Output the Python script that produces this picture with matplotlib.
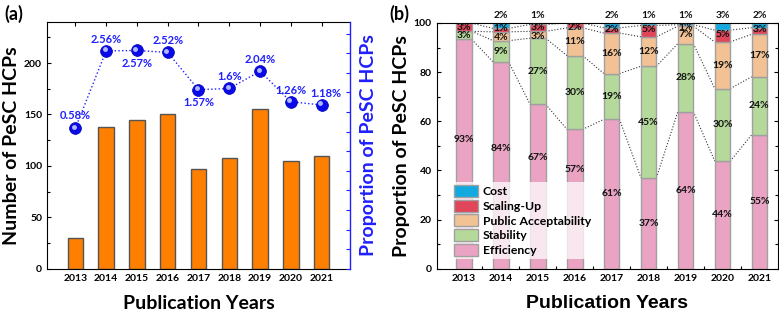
import numpy as np
import matplotlib
matplotlib.use("Agg")
import matplotlib.pyplot as plt
from matplotlib.patches import Patch

plt.rcParams['font.family'] = ['Lato', 'DejaVu Sans']
plt.rcParams['font.weight'] = 'bold'

years = [2013, 2014, 2015, 2016, 2017, 2018, 2019, 2020, 2021]

# panel (a)
n_papers = [30, 138, 145, 150, 97, 108, 155, 105, 110]
share_pct = [0.58, 2.56, 2.57, 2.52, 1.57, 1.6, 2.04, 1.26, 1.18]
share_lbl = ['0.58%', '2.56%', '2.57%', '2.52%', '1.57%', '1.6%', '2.04%', '1.26%', '1.18%']

# panel (b), percent of papers per topic
efficiency = [93.3, 84.1, 66.9, 56.7, 60.8, 37.0, 63.9, 43.8, 54.5]
stability = [3.3, 8.7, 26.9, 30.0, 18.6, 45.4, 27.7, 29.5, 23.6]
public_acc = [0.0, 3.6, 2.8, 11.3, 16.5, 12.0, 7.1, 19.0, 17.3]
scaling_up = [3.3, 1.4, 2.8, 2.0, 2.1, 4.6, 0.6, 4.8, 2.7]
cost = [0.0, 2.2, 0.7, 0.0, 2.1, 0.9, 0.6, 2.9, 1.8]
eff_lbl = ['93%', '84%', '67%', '57%', '61%', '37%', '64%', '44%', '55%']
stab_lbl = ['3%', '9%', '27%', '30%', '19%', '45%', '28%', '30%', '24%']
pa_lbl = ['', '4%', '3%', '11%', '16%', '12%', '7%', '19%', '17%']
su_lbl = ['3%', '1%', '3%', '2%', '2%', '5%', '1%', '5%', '3%']
cost_lbl = ['', '2%', '1%', '', '2%', '1%', '1%', '3%', '2%']

fig = plt.figure(figsize=(7.79, 3.14), dpi=100)

# ---------------- (a) ----------------
ax = fig.add_axes([0.0603, 0.1443, 0.389, 0.786])
ax.bar(years, n_papers, width=0.5, color='#FF7F00', edgecolor='#555555', linewidth=1.0, zorder=2)
ax.set_xlim(2012.08, 2021.92)
ax.set_ylim(0, 240)
ax.set_yticks([0, 50, 100, 150, 200])
ax.set_yticks(np.arange(25, 240, 50), minor=True)
ax.set_xticks(years)
ax.tick_params(direction='in', top=True, labelsize=7.5, length=3, width=0.8)
ax.tick_params(which='minor', direction='in', length=2, width=0.8)
ax.tick_params(axis='y', which='both', right=False)
ax.set_xlabel('Publication Years', fontsize=14, fontweight='bold', labelpad=9)
ax.set_ylabel('Number of PeSC HCPs', fontsize=14, fontweight='bold', labelpad=3)
ax.spines['right'].set_visible(False)

ax2 = ax.twinx()
ax2.set_position([0.0603, 0.1443, 0.389, 0.786])
ax2.plot(years, share_pct, linestyle=':', color='#1f1fff', linewidth=1.0,
         marker='o', markersize=8.5, markerfacecolor='#0a0ae8', markeredgecolor='#0000b0',
         markeredgewidth=0.5, zorder=3)
ax2.plot(np.array(years) - 0.05, np.array(share_pct) + 0.04, linestyle='none', marker='o',
         markersize=2.5, color='#b0b8ff', zorder=4)
ax2.set_ylim(-3.0, 3.3)
ax2.set_yticks(np.arange(-3.0, 3.01, 0.5))
ax2.set_yticklabels([])
ax2.tick_params(axis='y', direction='in', colors='#1f1fff', length=3, width=0.8)
ax2.spines['right'].set_color('#1f1fff')
ax2.spines['right'].set_linewidth(1.0)
for s in ['left', 'top', 'bottom']:
    ax2.spines[s].set_visible(False)
ax2.set_ylabel('Proportion of PeSC HCPs', fontsize=14, fontweight='bold', color='#1f1fff', labelpad=4)
offs = [0.33, 0.3, -0.32, 0.3, -0.32, 0.3, 0.3, 0.3, 0.3]
dxs = [0, 0, 0, 0, 0, 0, 0, 0, 0.15]
for x, v, t, o, dx in zip(years, share_pct, share_lbl, offs, dxs):
    ax2.text(x + dx, v + o, t, ha='center', va='center', fontsize=8, fontweight='bold', color='#1f1fff')

fig.text(0.005, 0.985, '(a)', fontsize=13, fontweight='bold', va='top', ha='left')

# ---------------- (b) ----------------
bx = fig.add_axes([0.5606, 0.1443, 0.438, 0.7825])
w = 0.42
series = [efficiency, stability, public_acc, scaling_up, cost]
names = ['Efficiency', 'Stability', 'Public Acceptability', 'Scaling-Up', 'Cost']
colors = ['#EBA3C4', '#B5D99B', '#F2C295', '#E0455A', '#12A9E0']
labels = [eff_lbl, stab_lbl, pa_lbl, su_lbl, cost_lbl]
x = np.array(years, dtype=float)
bottom = np.zeros(len(years))
tops = []
for vals, c in zip(series, colors):
    vals = np.array(vals)
    bx.bar(x, vals, width=w, bottom=bottom, color=c, edgecolor='#a0a0a0', linewidth=1.0, zorder=2)
    bottom = bottom + vals
    tops.append(bottom.copy())

# dotted connectors between stacked boundaries
for cum in tops[:-1]:
    for i in range(len(years) - 1):
        bx.plot([x[i] + w / 2, x[i + 1] - w / 2], [cum[i], cum[i + 1]], linestyle=':',
                color='#333333', linewidth=0.8, zorder=1)

# segment labels (small ones nudged a little apart)
eff_shift = [6, 7, 12, 12, 0, 0, 0, 0, 0]
nudge = [0, 0, -0.6, 0.5, 0]
lower = np.zeros(len(years))
for k, (vals, lbls) in enumerate(zip(series, labels)):
    for i in range(len(years)):
        t = lbls[i]
        if not t:
            continue
        if k == 4:
            y = 103.0
        else:
            y = lower[i] + vals[i] / 2
            if vals[i] < 6:
                y += nudge[k]
            if k == 3:
                y = min(y, 98.3)
        if k == 0:
            y += eff_shift[i]
        bx.text(x[i], y, t, ha='center', va='center', fontsize=7.5, fontweight='bold',
                color='#111111', zorder=5, clip_on=False)
    lower = lower + np.array(vals)

bx.set_xlim(2012.26, 2021.5)
bx.set_ylim(0, 100)
bx.set_xticks(years)
bx.set_xticks(np.array(years[:-1]) + 0.5, minor=True)
bx.set_yticks([0, 20, 40, 60, 80, 100])
bx.set_yticks(np.arange(10, 100, 20), minor=True)
bx.tick_params(direction='in', right=True, labelsize=7.5, length=3, width=0.8)
bx.tick_params(which='minor', direction='in', right=True, length=2, width=0.8)
bx.set_xlabel('Publication Years', fontsize=14, fontweight='bold', labelpad=9,
              family=['Liberation Sans', 'DejaVu Sans'])
bx.set_ylabel('Proportion of PeSC HCPs', fontsize=14, fontweight='bold', labelpad=3)

handles = [Patch(facecolor=c, edgecolor='#a0a0a0', linewidth=1.0) for c in colors]
leg = bx.legend(handles[::-1], names[::-1], loc='lower left', bbox_to_anchor=(0.025, 0.015),
                frameon=True, handlelength=1.9, handleheight=1.15,
                labelspacing=0.2, handletextpad=0.4, borderpad=0.25, prop={'weight': 'bold', 'size': 8.8})
leg.get_frame().set_facecolor('white')
leg.get_frame().set_alpha(0.75)
leg.get_frame().set_edgecolor('none')
leg.set_zorder(6)

fig.text(0.5, 0.985, '(b)', fontsize=13, fontweight='bold', va='top', ha='left')

fig.savefig('out.png', dpi=100)
